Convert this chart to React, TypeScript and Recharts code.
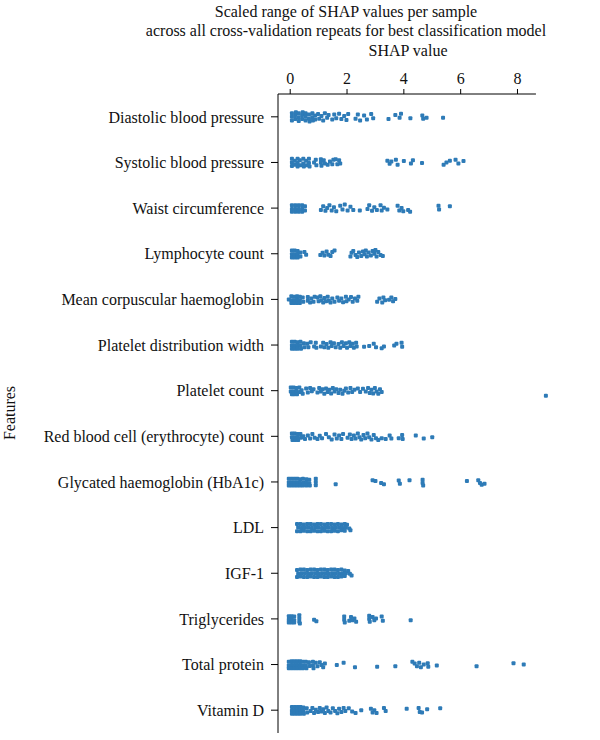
import React from 'react';
import { ScatterChart, Scatter, XAxis, YAxis, ReferenceLine } from 'recharts';

// feature names, top to bottom
const features = [
  'Diastolic blood pressure',
  'Systolic blood pressure',
  'Waist circumference',
  'Lymphocyte count',
  'Mean corpuscular haemoglobin',
  'Platelet distribution width',
  'Platelet count',
  'Red blood cell (erythrocyte) count',
  'Glycated haemoglobin (HbA1c)',
  'LDL',
  'IGF-1',
  'Triglycerides',
  'Total protein',
  'Vitamin D'
];

const xTicks = [0, 2, 4, 6, 8];

// [SHAP value, vertical jitter within the row]
const diastolic = [
  [0.06, -0.08], [0.06, 0], [0.06, 0.08], [0.18, -0.04], [0.18, 0.05], [0.2, -0.1],
  [0.3, -0.08], [0.3, 0.01], [0.3, 0.09], [0.42, -0.04], [0.42, 0.05], [0.44, -0.1],
  [0.54, -0.08], [0.54, 0], [0.54, 0.08], [0.66, -0.05], [0.66, 0.04], [0.68, 0.1],
  [0.78, -0.08], [0.78, 0.01], [0.8, 0.08], [0.88, -0.03], [0.88, 0.06],
  [0.98, -0.06], [1.02, 0.04], [1.1, -0.02], [1.16, 0.08], [1.22, -0.08], [1.3, 0.02], [1.35, -0.04],
  [1.48, 0.06], [1.55, -0.05], [1.62, 0.03], [1.72, -0.07], [1.8, 0.05], [1.9, -0.02], [1.98, 0.07], [2.04, -0.06],
  [2.3, 0.04], [2.38, -0.05], [2.46, 0.08], [2.6, -0.03], [2.7, 0.06], [2.85, -0.06], [2.92, 0.03],
  [3.46, 0.05], [3.7, -0.04], [3.85, 0.02], [3.9, -0.07], [4.23, 0.03], [4.65, -0.03], [4.68, 0.04],
  [4.8, 0.02], [5.38, 0.02]
];

const systolic = [
  [0.06, -0.08], [0.06, 0], [0.06, 0.08], [0.16, -0.04], [0.16, 0.05], [0.26, -0.08], [0.26, 0.01],
  [0.26, 0.09], [0.34, -0.05], [0.36, 0.06], [0.46, -0.08], [0.46, 0.02], [0.48, 0.09], [0.56, -0.04],
  [0.58, 0.06], [0.66, -0.08], [0.66, 0.01], [0.68, 0.09],
  [0.84, 0], [0.9, -0.06], [0.92, 0.06], [1.08, -0.07], [1.08, 0], [1.1, 0.07], [1.18, -0.05], [1.22, 0.02],
  [1.32, 0.05], [1.4, -0.02], [1.48, 0.04], [1.52, -0.06], [1.6, -0.07], [1.66, 0.04], [1.72, -0.05], [1.76, 0.02],
  [3.42, -0.04], [3.5, 0.03], [3.56, -0.02], [3.72, -0.06], [3.78, 0.05], [4.0, -0.03], [4.25, 0.02],
  [4.32, -0.05], [4.64, 0.01], [5.4, 0.05], [5.5, 0], [5.62, -0.04], [5.82, -0.06], [5.92, 0.02], [6.1, -0.03]
];

const waist = [
  [0.06, -0.06], [0.06, 0.02], [0.06, 0.08], [0.18, -0.06], [0.18, 0.02], [0.18, 0.08], [0.3, -0.06],
  [0.3, 0.02], [0.3, 0.08], [0.42, -0.06], [0.42, 0.02], [0.42, 0.08], [0.52, -0.04], [0.52, 0.05],
  [1.08, 0.04], [1.16, -0.04], [1.24, 0.06], [1.3, 0], [1.38, -0.06], [1.46, 0.05], [1.54, -0.02],
  [1.62, 0.07], [1.76, -0.05], [1.84, 0.03], [1.92, -0.08], [2.02, 0.05], [2.12, -0.03], [2.22, 0.04],
  [2.45, 0.05], [2.72, 0.02], [2.78, -0.06], [2.88, 0.06], [2.96, -0.02], [3.05, 0.04], [3.18, -0.06],
  [3.22, 0.05], [3.3, -0.01], [3.42, 0.03], [3.78, -0.05], [3.84, 0.05], [3.92, 0], [3.98, 0.07],
  [4.15, 0.04], [4.22, 0.08], [5.22, -0.05], [5.24, 0.03], [5.62, -0.04]
];

const lymphocyte = [
  [0.06, -0.07], [0.06, 0.01], [0.06, 0.08], [0.16, -0.07], [0.16, 0.01], [0.16, 0.08], [0.26, -0.06],
  [0.26, 0.02], [0.26, 0.08], [0.36, -0.03], [0.36, 0.06], [0.5, -0.04], [0.56, 0.02],
  [1.06, 0.03], [1.14, -0.02], [1.2, 0.04], [1.28, -0.05], [1.34, 0.02], [1.42, 0.05], [1.48, -0.04], [1.56, -0.07],
  [2.12, 0.06], [2.16, -0.02], [2.22, -0.06], [2.3, 0.03], [2.36, 0.07], [2.42, -0.03], [2.5, 0.05],
  [2.56, -0.05], [2.62, 0.01], [2.7, 0.06], [2.76, -0.03], [2.84, 0.04], [2.9, -0.06], [2.96, 0],
  [3.04, 0.06], [3.1, -0.04], [3.18, 0.03], [3.26, 0.05], [3.0, -0.08], [2.66, -0.07]
];

const mch = [
  [-0.05, 0], [0.04, -0.07], [0.04, 0.02], [0.04, 0.08], [0.14, -0.06], [0.14, 0.02], [0.14, 0.08],
  [0.24, -0.07], [0.24, 0.01], [0.24, 0.08], [0.34, -0.06], [0.34, 0.02], [0.34, 0.08], [0.44, -0.04],
  [0.46, 0.05], [0.62, -0.05], [0.62, 0.03], [0.7, 0.07], [0.74, -0.02], [0.82, 0.05], [0.86, -0.06],
  [0.96, -0.04], [1.0, 0.04], [1.06, -0.07], [1.1, 0.02], [1.16, 0.07], [1.2, -0.03], [1.26, 0.04],
  [1.32, -0.06], [1.36, 0.03], [1.42, 0.07], [1.48, -0.02], [1.56, 0.05], [1.66, -0.04], [1.72, 0.03],
  [1.8, -0.02], [1.86, 0.06], [1.96, -0.06], [1.98, 0.04], [2.06, 0], [2.14, -0.05], [2.2, 0.05],
  [2.28, -0.02], [2.36, 0.03], [2.4, -0.06], [3.06, 0.05], [3.14, -0.02], [3.24, 0.07], [3.28, -0.04],
  [3.34, 0.02], [3.48, 0.01], [3.56, -0.04], [3.62, 0.04], [3.7, -0.01]
];

const pdw = [
  [0.06, -0.07], [0.06, 0.01], [0.06, 0.08], [0.16, -0.07], [0.16, 0.01], [0.16, 0.08], [0.26, -0.06],
  [0.26, 0.02], [0.26, 0.08], [0.36, -0.07], [0.36, 0.01], [0.38, 0.08], [0.48, -0.04], [0.5, 0.05],
  [0.6, -0.03], [0.64, 0.05], [0.72, -0.06], [0.84, 0.03], [0.9, -0.05], [0.92, 0.06],
  [1.08, 0.03], [1.16, -0.05], [1.2, 0.05], [1.28, -0.02], [1.34, 0.06], [1.42, -0.06], [1.46, 0.02],
  [1.54, -0.04], [1.6, 0.05], [1.7, -0.02], [1.76, 0.06], [1.82, -0.06], [1.88, 0.02], [1.96, -0.04],
  [2.0, 0.06], [2.08, -0.06], [2.12, 0.02], [2.2, -0.03], [2.24, 0.06], [2.32, -0.05], [2.34, 0.03],
  [2.6, 0.04], [2.78, 0.02], [2.94, -0.03], [3.02, 0.05], [3.22, 0.07], [3.3, 0.03], [3.66, 0.01],
  [3.74, -0.03], [3.92, -0.05], [3.94, 0.04]
];

const plateletCount = [
  [0.02, -0.07], [0.02, 0.02], [0.06, 0.08], [0.12, -0.07], [0.12, 0.02], [0.14, 0.08], [0.22, -0.06],
  [0.22, 0.02], [0.24, 0.08], [0.32, -0.07], [0.34, 0.03], [0.4, -0.01], [0.44, 0.07],
  [0.56, -0.05], [0.62, 0.04], [0.7, -0.06], [0.76, 0.01], [0.82, -0.03],
  [0.96, 0.04], [1.02, -0.06], [1.08, 0.02], [1.14, -0.03], [1.2, 0.07], [1.26, -0.05], [1.32, 0.03],
  [1.38, -0.02], [1.44, 0.06], [1.5, -0.06], [1.56, 0.02], [1.62, -0.03], [1.7, 0.05], [1.76, -0.02],
  [1.84, 0.07], [1.9, 0], [1.96, -0.05], [2.04, 0.04], [2.12, -0.06], [2.18, 0.03], [2.26, -0.02],
  [2.38, -0.05], [2.46, 0.03], [2.56, -0.04], [2.66, 0.02], [2.74, -0.06], [2.8, 0.05], [2.86, -0.02],
  [2.92, 0.06], [2.98, -0.06], [3.04, 0.02], [3.1, 0.07], [3.16, -0.03], [3.22, 0.03], [9.0, 0.11]
];

const rbc = [
  [0.06, -0.06], [0.06, 0.02], [0.08, 0.08], [0.16, -0.06], [0.16, 0.02], [0.18, 0.08], [0.26, -0.05],
  [0.26, 0.03], [0.28, 0.08], [0.36, -0.05], [0.38, 0.03], [0.46, 0], [0.52, 0.06],
  [0.62, -0.02], [0.7, 0.05], [0.78, -0.05], [0.86, 0.03], [0.96, 0.06], [1.04, -0.01], [1.12, 0.04],
  [1.26, -0.05], [1.36, 0.02], [1.46, 0.07], [1.56, -0.04], [1.64, 0.05], [1.72, -0.02], [1.8, 0.06],
  [1.86, -0.05], [2.02, 0.03], [2.1, -0.04], [2.16, 0.06], [2.24, -0.02], [2.3, 0.05], [2.38, -0.06],
  [2.44, 0.02], [2.5, 0.07], [2.58, -0.03], [2.64, 0.04], [2.72, -0.06], [2.78, 0.02], [2.86, 0.07],
  [2.94, -0.03], [3.02, 0.04], [3.1, 0.08], [3.22, 0.04], [3.36, 0.06], [3.5, -0.02], [3.56, 0.05],
  [3.82, 0.04], [3.94, -0.03], [3.96, 0.06], [4.42, -0.02], [4.7, 0.05], [5.0, 0.02]
];

const hba1c = [
  [-0.05, -0.07], [-0.05, 0.01], [-0.05, 0.08], [0.05, -0.07], [0.05, 0.01], [0.05, 0.08], [0.15, -0.07],
  [0.15, 0.01], [0.15, 0.08], [0.25, -0.07], [0.25, 0.01], [0.25, 0.08], [0.35, -0.06], [0.35, 0.02],
  [0.35, 0.08], [0.45, -0.07], [0.47, 0.01], [0.45, 0.08], [0.57, -0.06], [0.57, 0.02], [0.57, 0.08],
  [0.67, -0.05], [0.67, 0.03], [0.69, 0.08], [0.9, -0.07], [0.9, 0], [0.9, 0.07],
  [1.6, 0.05], [2.9, -0.04], [3.0, -0.02], [3.2, 0.02], [3.3, 0.05], [3.82, -0.03], [3.86, 0.04],
  [4.2, -0.04], [4.66, -0.05], [4.66, 0.02], [4.68, 0.08], [6.22, -0.02], [6.62, -0.04], [6.68, 0.02],
  [6.74, 0.06], [6.84, 0.04]
];

const ldl = [
  [0.24, -0.08], [0.36, -0.08], [0.48, -0.07], [0.6, -0.08], [0.72, -0.08], [0.84, -0.07], [0.96, -0.08],
  [1.08, -0.08], [1.2, -0.07], [1.32, -0.08], [1.44, -0.08], [1.56, -0.07], [1.68, -0.08], [1.8, -0.07],
  [1.92, -0.08], [2.0, -0.06],
  [0.28, 0], [0.4, 0.01], [0.52, 0], [0.64, 0], [0.76, 0.01], [0.88, 0], [1.0, 0], [1.12, 0.01],
  [1.24, 0], [1.36, 0], [1.48, 0.01], [1.6, 0], [1.72, 0], [1.84, 0.01], [1.96, 0], [2.08, 0.02],
  [0.24, 0.08], [0.36, 0.08], [0.48, 0.07], [0.6, 0.08], [0.72, 0.08], [0.84, 0.07], [0.96, 0.08],
  [1.08, 0.08], [1.2, 0.07], [1.32, 0.08], [1.44, 0.08], [1.56, 0.07], [1.68, 0.08], [1.8, 0.06],
  [1.92, 0.07], [2.12, 0.06]
];

const igf1 = [
  [0.24, -0.07], [0.36, -0.08], [0.48, -0.08], [0.6, -0.07], [0.72, -0.08], [0.84, -0.08], [0.96, -0.07],
  [1.08, -0.08], [1.2, -0.08], [1.32, -0.07], [1.44, -0.08], [1.56, -0.08], [1.68, -0.07], [1.8, -0.08],
  [1.92, -0.06], [2.04, -0.05],
  [0.28, 0.01], [0.4, 0], [0.52, 0], [0.64, 0.01], [0.76, 0], [0.88, 0], [1.0, 0.01], [1.12, 0],
  [1.24, 0], [1.36, 0.01], [1.48, 0], [1.6, 0], [1.72, 0.01], [1.84, 0], [1.96, 0], [2.1, 0.01],
  [0.24, 0.08], [0.36, 0.07], [0.48, 0.08], [0.6, 0.08], [0.72, 0.07], [0.84, 0.08], [0.96, 0.08],
  [1.08, 0.07], [1.2, 0.08], [1.32, 0.08], [1.44, 0.07], [1.56, 0.08], [1.68, 0.08], [1.8, 0.07],
  [1.92, 0.06], [2.16, 0.05]
];

const triglycerides = [
  [-0.05, -0.06], [-0.05, 0.02], [-0.05, 0.08], [0.05, -0.06], [0.05, 0.02], [0.05, 0.08], [0.14, -0.05],
  [0.14, 0.03], [0.14, 0.08], [0.32, -0.08], [0.32, -0.01], [0.32, 0.06], [0.34, 0.1],
  [0.84, 0.02], [0.92, 0.05], [1.9, -0.05], [1.9, 0.02], [1.92, 0.08], [2.08, 0.04], [2.14, -0.04],
  [2.2, 0.03], [2.26, -0.01], [2.32, 0.06], [2.78, -0.07], [2.78, 0], [2.8, 0.06], [2.9, -0.04],
  [2.96, 0.03], [3.02, -0.01], [3.22, -0.05], [3.26, 0.04], [4.24, 0.03]
];

const totalProtein = [
  [-0.05, -0.06], [-0.05, 0.02], [-0.05, 0.08], [0.05, -0.07], [0.05, 0.01], [0.05, 0.08], [0.15, -0.07],
  [0.15, 0.01], [0.15, 0.08], [0.25, -0.07], [0.25, 0.01], [0.25, 0.08], [0.35, -0.07], [0.35, 0.01],
  [0.35, 0.08], [0.45, -0.06], [0.45, 0.02], [0.45, 0.08], [0.55, -0.06], [0.55, 0.02], [0.57, 0.08],
  [0.66, -0.05], [0.68, 0.03], [0.8, -0.06], [0.8, 0.02], [0.82, 0.08], [0.9, -0.04], [0.96, 0.04],
  [1.04, -0.05], [1.1, 0.01], [1.16, 0.06], [1.22, -0.02],
  [1.64, 0.01], [1.88, -0.04], [2.28, 0.06], [3.06, 0.05], [3.7, 0.04],
  [4.3, -0.06], [4.38, -0.02], [4.46, 0.04], [4.54, -0.04], [4.6, 0.06], [4.7, 0], [4.84, -0.03],
  [4.86, 0.05], [5.16, 0.02], [6.56, 0.04], [7.86, -0.03], [8.22, 0]
];

const vitaminD = [
  [0.06, -0.07], [0.06, 0.01], [0.06, 0.08], [0.16, -0.07], [0.16, 0.01], [0.16, 0.08], [0.26, -0.07],
  [0.26, 0.01], [0.26, 0.08], [0.36, -0.07], [0.36, 0.01], [0.36, 0.08], [0.46, -0.06], [0.46, 0.02],
  [0.48, 0.08], [0.58, -0.04], [0.6, 0.05], [0.72, 0.02], [0.78, -0.05], [0.84, 0.06], [0.9, -0.01],
  [0.98, 0.04], [1.04, -0.05], [1.1, 0.03], [1.16, -0.02], [1.22, 0.06], [1.28, -0.06], [1.34, 0.02],
  [1.42, 0.05], [1.5, -0.04], [1.58, 0.02], [1.66, 0.07], [1.72, -0.03], [1.8, 0.04], [1.88, -0.05],
  [1.94, 0.02], [2.06, -0.04], [2.18, 0.03], [2.3, 0.06], [2.5, 0], [2.84, -0.03], [2.9, 0.05],
  [2.96, 0], [3.04, 0.06], [3.3, -0.05], [3.36, 0.02], [4.1, -0.03], [4.52, -0.05], [4.56, 0.04],
  [4.64, 0.05], [4.82, -0.02], [5.28, -0.04]
];

const rows = [
  diastolic, systolic, waist, lymphocyte, mch, pdw, plateletCount,
  rbc, hba1c, ldl, igf1, triglycerides, totalProtein, vitaminD
];

const points = rows.flatMap((pts, i) => pts.map(([x, dy]) => ({ x, y: i + dy })));

const FONT = '"Liberation Serif", "Times New Roman", serif';
const DOT = '#2e7bb7';

const Square = (props: any) => {
  const { cx, cy } = props;
  if (cx == null || cy == null) return null;
  return <rect x={cx - 2} y={cy - 2} width={4} height={4} rx={1} fill={DOT} />;
};

const textStyle: React.CSSProperties = {
  position: 'absolute',
  fontFamily: FONT,
  fontSize: 16,
  lineHeight: '20px',
  color: '#111',
  textAlign: 'center',
  whiteSpace: 'nowrap'
};

export default function App() {
  return (
    <div style={{ position: 'absolute', left: 0, top: 0, width: 600, height: 740, background: '#fff' }}>
      <div style={{ ...textStyle, left: 0, width: 692, top: 2 }}>Scaled range of SHAP values per sample</div>
      <div style={{ ...textStyle, left: 0, width: 692, top: 21 }}>
        across all cross-validation repeats for best classification model
      </div>
      <div style={{ ...textStyle, left: 0, width: 816, top: 41 }}>SHAP value</div>
      <div
        style={{
          ...textStyle,
          left: 10,
          top: 413,
          transform: 'translate(-50%, -50%) rotate(-90deg)'
        }}
      >
        Features
      </div>
      <ScatterChart width={600} height={740} margin={{ top: 64, right: 49, bottom: 7, left: 0 }}>
        <XAxis
          type="number"
          dataKey="x"
          orientation="top"
          domain={[-0.43, 9.18]}
          allowDataOverflow
          ticks={xTicks}
          axisLine={false}
          tickSize={5}
          tickMargin={5}
          height={30}
          tickLine={{ stroke: '#000' }}
          tick={{ fill: '#111', fontSize: 16, fontFamily: FONT }}
        />
        <YAxis
          type="number"
          dataKey="y"
          domain={[-0.5, 13.5]}
          allowDataOverflow
          reversed
          ticks={features.map((_, i) => i)}
          interval={0}
          tickFormatter={(v: number) => features[v] ?? ''}
          width={278}
          tickSize={7}
          tickMargin={7}
          axisLine={{ stroke: '#000' }}
          tickLine={{ stroke: '#000' }}
          tick={{ fill: '#111', fontSize: 16, fontFamily: FONT }}
        />
        <ReferenceLine
          segment={[{ x: -0.43, y: -0.5 }, { x: 8.65, y: -0.5 }]}
          stroke="#000"
          ifOverflow="visible"
        />
        <Scatter data={points} shape={Square} isAnimationActive={false} />
      </ScatterChart>
    </div>
  );
}
